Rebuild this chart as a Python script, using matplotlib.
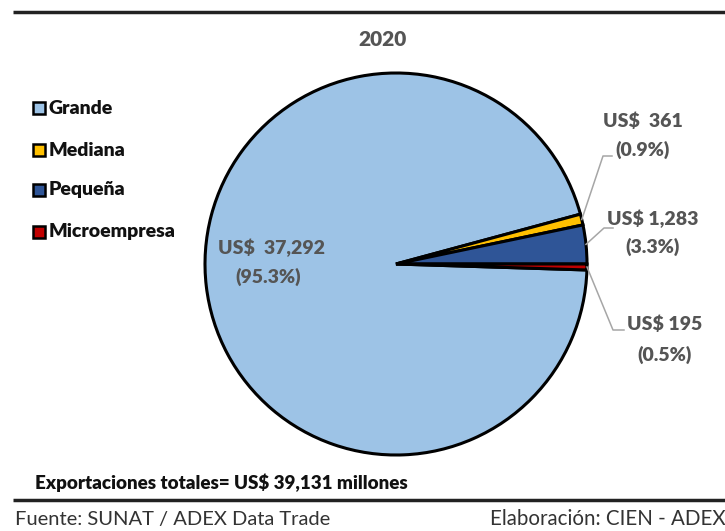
import numpy as np
import matplotlib
matplotlib.use("Agg")
import matplotlib.pyplot as plt
from matplotlib.patches import Rectangle

plt.rcParams['font.family'] = ['Lato', 'DejaVu Sans']

# Export data by company size, 2020 (US$ millions)
categories = ["Grande", "Mediana", "Pequeña", "Microempresa"]
values = [37292, 361, 1283, 195]
value_labels = ["US$  37,292", "US$  361", "US$ 1,283", "US$ 195"]
pct_labels = ["(95.3%)", "(0.9%)", "(3.3%)", "(0.5%)"]
colors = ["#9DC3E6", "#FFC000", "#2F5597", "#C00000"]
title = "2020"
total_text = "Exportaciones totales= US$ 39,131 millones"
source_text = "Fuente: SUNAT / ADEX Data Trade"
credit_text = "Elaboración: CIEN - ADEX"

W, H = 725, 531
fig = plt.figure(figsize=(W / 100, H / 100), dpi=100)

# Pie geometry (pixels)
cx, cy, r = 396, 264, 191
pie_ax = fig.add_axes([(cx - r) / W, (H - cy - r) / H, 2 * r / W, 2 * r / H])
total = sum(values)
start = 360.0 * sum(values[:3]) / total
pie_ax.pie(values, colors=colors, startangle=start, counterclock=False,
           wedgeprops=dict(edgecolor="black", linewidth=2.2))
pie_ax.set_xlim(-1, 1)
pie_ax.set_ylim(-1, 1)
pie_ax.set_aspect("auto")
pie_ax.axis("off")
for p in pie_ax.patches:
    p.set_clip_on(False)

# Overlay axes in pixel coordinates for text and rules (drawn above the pie)
ov = fig.add_axes([0, 0, 1, 1])
ov.set_zorder(5)
ov.patch.set_visible(False)
ov.set_xlim(0, W)
ov.set_ylim(H, 0)
ov.axis("off")

# Middle angle of each wedge (degrees, counterclockwise from +x)
mids = []
a = start
for v in values:
    span = 360.0 * v / total
    mids.append(a - span / 2)
    a -= span

grey = "#555555"
W_BOLD = "heavy"
ov.text(383, 40, title, ha="center", va="center", fontsize=15,
        fontweight=W_BOLD, color=grey)

# Rules at top and bottom
ov.plot([13, W], [12, 12], color="#222222", lw=2.5, solid_capstyle="butt")
ov.plot([13, W], [500, 500], color="#222222", lw=2.5, solid_capstyle="butt")

# Legend
leg_y = [108, 150, 190, 232]
for cat, col, y in zip(categories, colors, leg_y):
    ov.add_patch(Rectangle((33, y - 6), 12, 12, facecolor=col,
                           edgecolor="black", lw=1.8))
    ov.text(49, y, cat, ha="left", va="center", fontsize=14,
            fontweight=W_BOLD, color="#111111")

# Large slice label inside the pie
ov.text(272, 248, value_labels[0], ha="center", va="center", fontsize=14,
        fontweight=W_BOLD, color=grey)
ov.text(268, 277, pct_labels[0], ha="center", va="center", fontsize=14,
        fontweight=W_BOLD, color=grey)

# Outside labels with leader lines for the small slices
label_pos = {1: (643, 121, 150), 2: (653, 219, 247), 3: (665, 324, 355)}
elbows = {1: [(603, 156), (612, 156)],
          2: [(604, 228), (613, 228)],
          3: [(613, 330), (624, 330)]}
for i, (tx, ty1, ty2) in label_pos.items():
    ang = np.deg2rad(mids[i])
    ex, ey = cx + r * np.cos(ang), cy - r * np.sin(ang)
    pts = [(ex, ey)] + elbows[i]
    ov.plot([p[0] for p in pts], [p[1] for p in pts], color="#A6A6A6", lw=1.1)
    ov.text(tx, ty1, value_labels[i], ha="center", va="center", fontsize=14,
            fontweight=W_BOLD, color=grey)
    ov.text(tx, ty2, pct_labels[i], ha="center", va="center", fontsize=14,
            fontweight=W_BOLD, color=grey)

# Footer
ov.text(35, 483, total_text, ha="left", va="center", fontsize=13.5,
        fontweight=W_BOLD, color="#111111")
ov.text(15, 519, source_text, ha="left", va="center", fontsize=14.5,
        color="#333333")
ov.text(490, 519, credit_text, ha="left", va="center", fontsize=14.8,
        color="#333333")

fig.savefig("out.png", dpi=100)
